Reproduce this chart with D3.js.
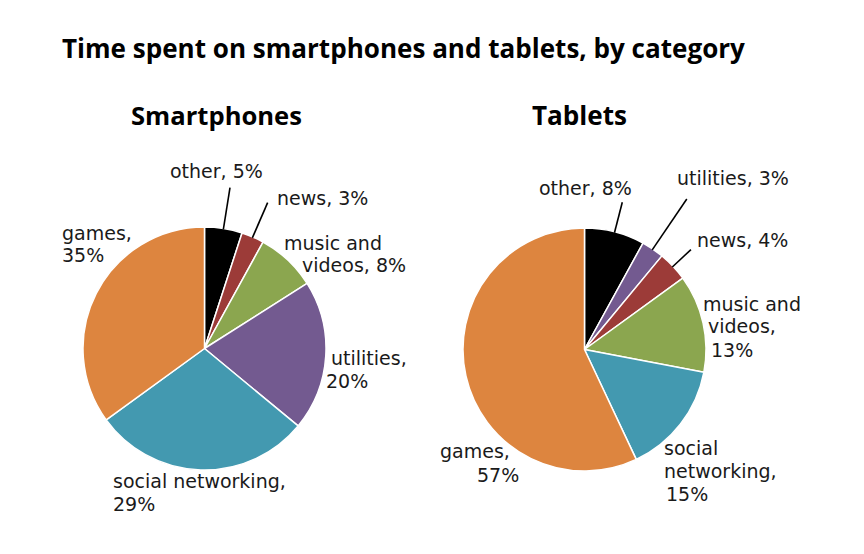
<!DOCTYPE html>
<html>
<head>
<meta charset="utf-8">
<script src="https://cdn.jsdelivr.net/npm/d3@7"></script>
<style>
  html, body { margin: 0; padding: 0; background: #fff; }
  svg { display: block; }
</style>
</head>
<body>
<svg id="chart" width="864" height="554"></svg>
<script>
// ---------- data ----------
const chartTitle = "Time spent on smartphones and tablets, by category";
const panelTitles = ["Smartphones", "Tablets"];

const smartCategories = ["other", "news", "music and videos", "utilities", "social networking", "games"];
const smartValues = [5, 3, 8, 20, 29, 35];

const tabletCategories = ["other", "utilities", "news", "music and videos", "social networking", "games"];
const tabletValues = [8, 3, 4, 13, 15, 57];

// ---------- styles ----------
const colorByCategory = {
  "other": "#000000",
  "news": "#9c3b38",
  "music and videos": "#8ba64f",
  "utilities": "#735a90",
  "social networking": "#4399b0",
  "games": "#dd853f"
};

// ---------- layout ----------
const radius = 121.5;
const panels = [
  {
    title: panelTitles[0], categories: smartCategories, values: smartValues,
    cx: 204.5, cy: 348.5, titleCx: 216.5, titleWidth: 171,
    // words per line, line offsets relative to pie centre, leader outer radius (null = none)
    labels: {
      "other": { breaks: [3], pos: [[-34.5, -170.5]], leader: 163 },
      "news": { breaks: [2], pos: [[72.5, -143.5]], leader: 159 },
      "music and videos": { breaks: [2, 2], pos: [[79.5, -98.5], [97.5, -76.5]] },
      "utilities": { breaks: [1, 1], pos: [[126.5, 16.5], [121.5, 39.5]] },
      "social networking": { breaks: [2, 1], pos: [[-91.5, 139.5], [-91.5, 162.5]] },
      "games": { breaks: [1, 1], pos: [[-142.5, -108.5], [-142.5, -86.5]] }
    }
  },
  {
    title: panelTitles[1], categories: tabletCategories, values: tabletValues,
    cx: 584.5, cy: 349.5, titleCx: 579.5, titleWidth: 95,
    labels: {
      "other": { breaks: [2], pos: [[-45.5, -154.5]], leader: 152 },
      "utilities": { breaks: [2], pos: [[92.5, -164.5]], leader: 182 },
      "news": { breaks: [2], pos: [[112.5, -102.5]], leader: 146 },
      "music and videos": { breaks: [2, 1, 1], pos: [[118.5, -38.5], [123.5, -16.5], [126.5, 7.5]] },
      "social networking": { breaks: [1, 1, 1], pos: [[79.5, 105.5], [79.5, 128.5], [81.5, 151.5]] },
      "games": { breaks: [1, 1], pos: [[-144.5, 108.5], [-107.5, 132.5]] }
    }
  }
];

const svg = d3.select("#chart");

function fitText(sel, width) {
  const node = sel.node();
  const fs = parseFloat(sel.attr("font-size"));
  const w = node.getComputedTextLength();
  if (w > 0) sel.attr("font-size", (fs * width / w).toFixed(2));
}

// title
const title = svg.append("text")
  .attr("x", 62).attr("y", 58)
  .attr("font-family", "'Open Sans', sans-serif")
  .attr("font-weight", "bold")
  .attr("font-size", 22)
  .attr("fill", "#000")
  .text(chartTitle);
fitText(title, 683);

const pie = d3.pie().sort(null).value(d => d.value).startAngle(0).endAngle(2 * Math.PI);
const arc = d3.arc().innerRadius(0).outerRadius(radius);

panels.forEach(p => {
  const data = p.categories.map((c, i) => ({ category: c, value: p.values[i] }));
  const arcs = pie(data);

  const st = svg.append("text")
    .attr("x", p.titleCx).attr("y", 125)
    .attr("text-anchor", "middle")
    .attr("font-family", "'Open Sans', sans-serif")
    .attr("font-weight", "bold")
    .attr("font-size", 21)
    .attr("fill", "#000")
    .text(p.title);
  fitText(st, p.titleWidth);

  const g = svg.append("g").attr("transform", `translate(${p.cx},${p.cy})`);

  g.selectAll("path.slice")
    .data(arcs)
    .join("path")
    .attr("class", "slice")
    .attr("d", arc)
    .attr("fill", d => colorByCategory[d.data.category])
    .attr("stroke", "#fff")
    .attr("stroke-width", 1.5)
    .attr("stroke-linejoin", "round");

  // leader lines
  const leaderArcs = arcs.filter(a => p.labels[a.data.category].leader);
  g.selectAll("line.leader")
    .data(leaderArcs)
    .join("line")
    .attr("class", "leader")
    .attr("x1", a => Math.sin((a.startAngle + a.endAngle) / 2) * (radius - 1))
    .attr("y1", a => -Math.cos((a.startAngle + a.endAngle) / 2) * (radius - 1))
    .attr("x2", a => Math.sin((a.startAngle + a.endAngle) / 2) * p.labels[a.data.category].leader)
    .attr("y2", a => -Math.cos((a.startAngle + a.endAngle) / 2) * p.labels[a.data.category].leader)
    .attr("stroke", "#000")
    .attr("stroke-width", 1.6);

  // labels
  arcs.forEach(a => {
    const L = p.labels[a.data.category];
    const words = `${a.data.category}, ${a.data.value}%`.split(" ");
    let k = 0;
    L.breaks.forEach((n, li) => {
      const line = words.slice(k, k + n).join(" ");
      k += n;
      g.append("text")
        .attr("x", L.pos[li][0])
        .attr("y", L.pos[li][1])
        .attr("font-family", "'DejaVu Sans', sans-serif")
        .attr("font-size", 19)
        .attr("fill", "#1a1a1a")
        .text(line);
    });
  });
});
</script>
</body>
</html>
